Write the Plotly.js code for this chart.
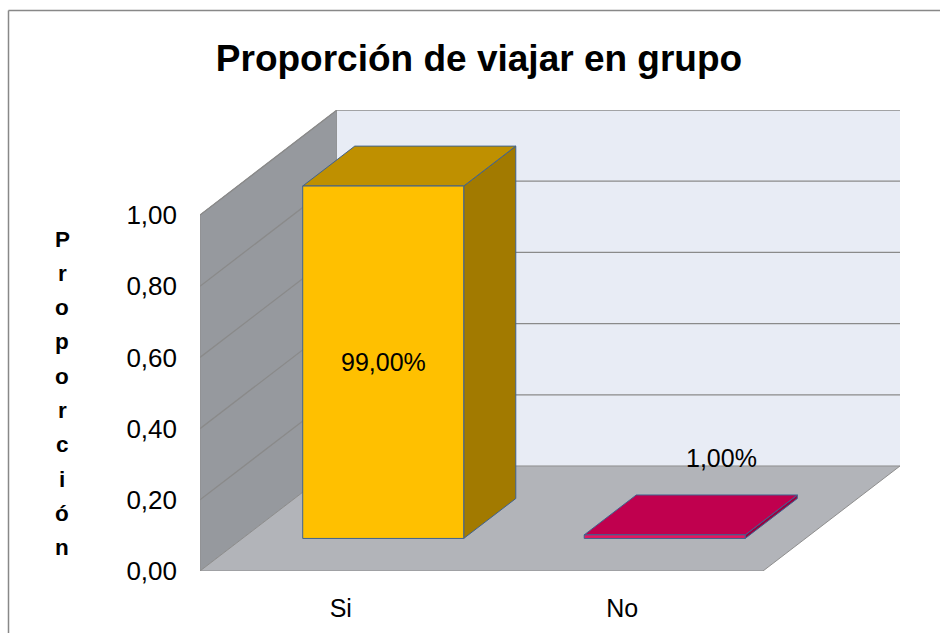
<!DOCTYPE html>
<html>
<head>
<meta charset="utf-8">
<script src="https://cdn.plot.ly/plotly-3.0.1.min.js"></script>
<style>
html,body{margin:0;padding:0;background:#fff;}
#chart{width:940px;height:633px;}
</style>
</head>
<body>
<div id="chart"></div>
<script>
// ---- data ----
const categories = ['Si', 'No'];
const proportions = [0.99, 0.01];
const dataLabels = ['99,00%', '1,00%'];
const yTickVals = [0, 0.2, 0.4, 0.6, 0.8, 1.0];
const yTickText = ['0,00', '0,20', '0,40', '0,60', '0,80', '1,00'];
const chartTitle = 'Proporción de viajar en grupo';
const yTitle = 'Proporción';

// ---- styles ----
const frontColors = ['#FFC000', '#E8155E'];
const topColors = ['#BF9000', '#C0004E'];
const sideColors = ['#A27A00', '#9A003F'];
const FONT = '"Liberation Sans", Arial, sans-serif';

// oblique projection parameters (axis units)
const DX = 0.4867, DY = 0.295;    // depth of floor
const HW = 0.286;                  // bar half width
const Z0 = 0.31, Z1 = 0.69;        // bar depth span
const nCat = categories.length;
const yMax = yTickVals[yTickVals.length - 1];

const traces = [];
function poly(xs, ys, fill, line, lw) {
  traces.push({type: 'scatter', mode: 'lines', x: xs.concat([xs[0]]), y: ys.concat([ys[0]]),
    fill: 'toself', fillcolor: fill, line: {color: line, width: lw}, hoverinfo: 'skip', showlegend: false});
}
// walls & floor
poly([0, DX, DX, 0], [0, DY, yMax + DY, yMax], '#96999E', '#8E8E8E', 1);
poly([DX, nCat + DX, nCat + DX, DX], [DY, DY, yMax + DY, yMax + DY], '#E8ECF5', 'rgba(0,0,0,0)', 0);
poly([0, nCat, nCat + DX, DX], [0, 0, DY, DY], '#B2B4B9', '#8E8E8E', 1);

// gridlines on side and back walls
const gx = [], gy = [];
yTickVals.filter(v => v > 0).forEach(v => {
  gx.push(0, DX, nCat + DX, null);
  gy.push(v, v + DY, v + DY, null);
});
traces.push({type: 'scatter', mode: 'lines', x: gx, y: gy, line: {color: '#8A8A8A', width: 1.3},
  hoverinfo: 'skip', showlegend: false});

// bars
const annotations = [];
categories.forEach((cat, i) => {
  const v = proportions[i];
  const c = i + 0.5;
  const xl0 = c - HW + Z0 * DX, xr0 = c + HW + Z0 * DX;
  const xl1 = c - HW + Z1 * DX, xr1 = c + HW + Z1 * DX;
  const yb0 = Z0 * DY, yb1 = Z1 * DY;
  const edge = '#3F6290';
  poly([xr0, xr1, xr1, xr0], [yb0, yb1, v + yb1, v + yb0], sideColors[i], edge, 1);
  poly([xl0, xr0, xr1, xl1], [v + yb0, v + yb0, v + yb1, v + yb1], topColors[i], edge, 1);
  poly([xl0, xr0, xr0, xl0], [yb0, yb0, v + yb0, v + yb0], frontColors[i], edge, 1);
  if (v > 0.5) {
    annotations.push({x: c + Z0 * DX, y: v / 2 + yb0, xref: 'x', yref: 'y', text: dataLabels[i],
      showarrow: false, font: {family: FONT, size: 25, color: '#000'}, xanchor: 'center', yanchor: 'middle'});
  } else {
    annotations.push({x: c + 0.5 * DX + 0.11, y: v + 0.5 * DY + 0.16, xref: 'x', yref: 'y', text: dataLabels[i],
      showarrow: false, font: {family: FONT, size: 25, color: '#000'}, xanchor: 'center', yanchor: 'middle'});
  }
});

// stacked y-axis title letters
const W = 940, H = 633, ML = 200, MR = 40, MT = 110, MB = 62;
const pw = W - ML - MR, ph = H - MT - MB;
Array.from(yTitle).forEach((ch, k) => {
  const py = 239 + 34.3 * k;
  annotations.push({x: (62 - ML) / pw, y: (H - MB - py) / ph, xref: 'paper', yref: 'paper', text: '<b>' + ch + '</b>',
    showarrow: false, font: {family: FONT, size: 22.5, color: '#000'}, xanchor: 'center', yanchor: 'middle'});
});

const bx = (8.5 - ML) / pw, by = (H - MB - 10.5) / ph;
const layout = {
  width: W, height: H,
  margin: {l: ML, r: MR, t: MT, b: MB},
  paper_bgcolor: '#fff', plot_bgcolor: 'rgba(0,0,0,0)',
  showlegend: false,
  title: {text: '<b>' + chartTitle + '</b>', x: 479 / W, xref: 'container', xanchor: 'center',
    y: 1 - 58 / H, yref: 'container', yanchor: 'middle', font: {family: FONT, size: 37, color: '#000'}},
  xaxis: {range: [0, nCat + DX], tickvals: categories.map((c, i) => i + 0.5), ticktext: categories,
    showgrid: false, zeroline: false, showline: false, ticks: '', ticklabelstandoff: 20,
    tickfont: {family: FONT, size: 25, color: '#000'}, fixedrange: true},
  yaxis: {range: [0, yMax + DY], tickvals: yTickVals, ticktext: yTickText,
    showgrid: false, zeroline: false, showline: false, ticks: '', ticklabelstandoff: 22,
    tickfont: {family: FONT, size: 26, color: '#000'}, fixedrange: true},
  annotations: annotations,
  shapes: [
    {type: 'line', xref: 'paper', yref: 'paper', x0: bx, x1: bx, y0: by, y1: -0.3, line: {color: '#888', width: 1.5}},
    {type: 'line', xref: 'paper', yref: 'paper', x0: bx, x1: 1.2, y0: by, y1: by, line: {color: '#888', width: 1.5}}
  ]
};
Plotly.newPlot('chart', traces, layout, {displayModeBar: false, staticPlot: true});
</script>
</body>
</html>
